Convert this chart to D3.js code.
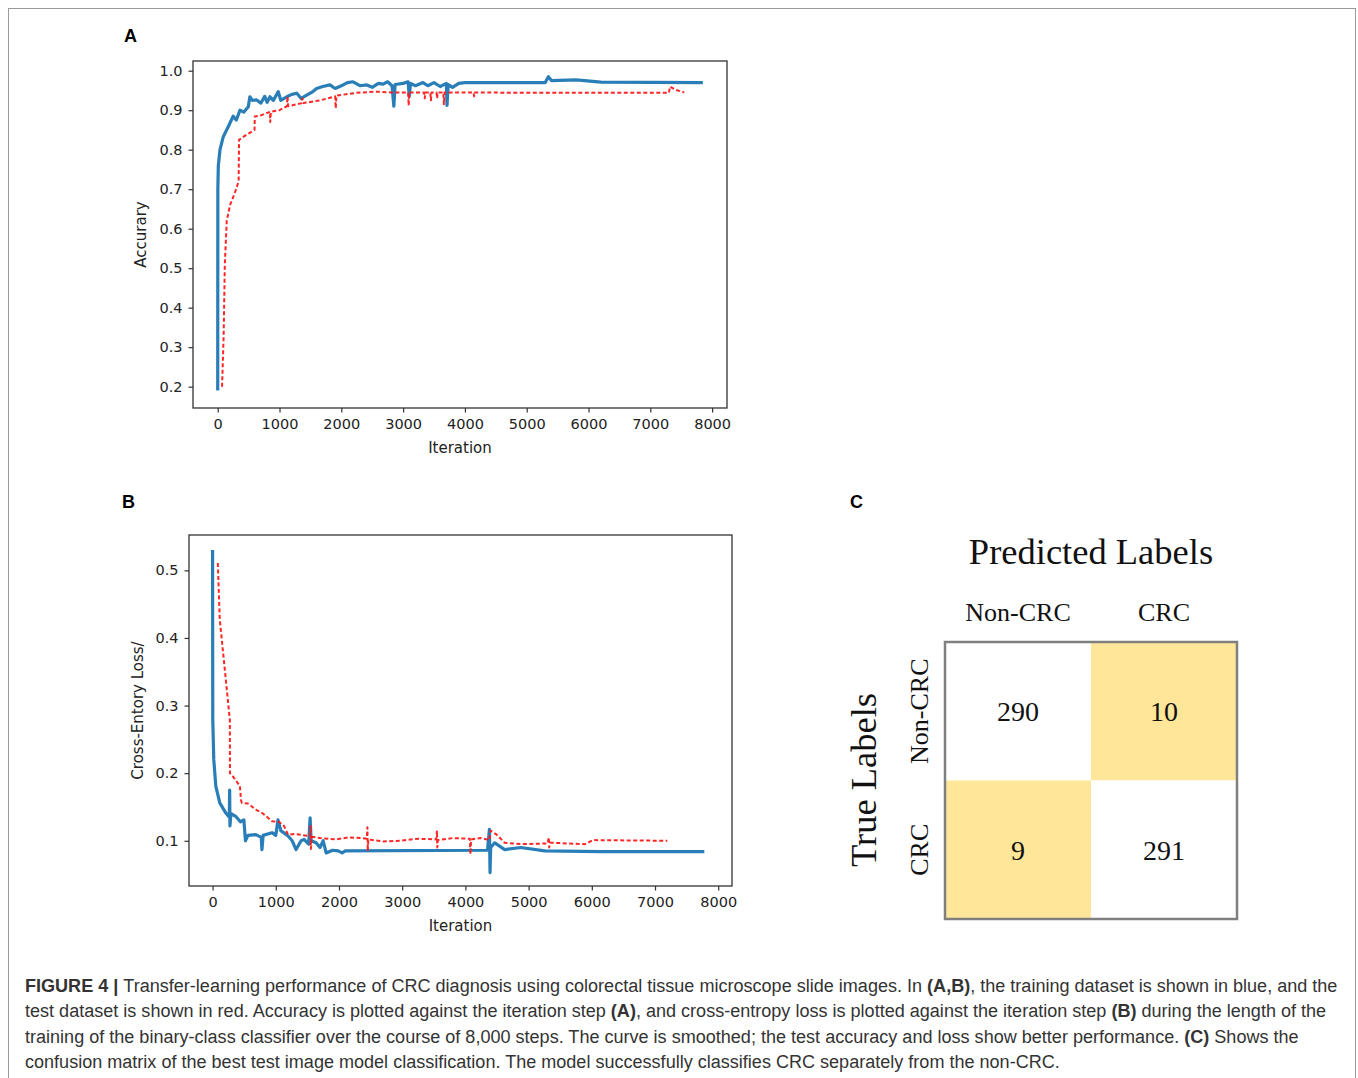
<!DOCTYPE html>
<html lang="en">
<head>
<meta charset="UTF-8">
<title>Figure 4</title>
<script src="https://d3js.org/d3.v7.min.js"></script>
<style>
    body { margin: 0; background: #fff; }
    .tick text { font-family: "DejaVu Sans", sans-serif; font-size: 14.5px; fill: #222; }
    .axis-label { font-family: "DejaVu Sans", sans-serif; font-size: 15px; fill: #222; }
    .panel-letter { font-family: "Liberation Sans", Arial, sans-serif; font-size: 18px; font-weight: bold; }
    .serif { font-family: "Liberation Serif", "DejaVu Serif", serif; fill: #111; }
    .caption { font-family: "Liberation Sans", Arial, sans-serif; fill: #333; }
</style>
</head>
<body>
<svg id="fig" width="1358" height="1078"></svg>
<script>
// ---- data ----
const xTicks = [0, 1000, 2000, 3000, 4000, 5000, 6000, 7000, 8000];
const accTicks = [0.2, 0.3, 0.4, 0.5, 0.6, 0.7, 0.8, 0.9, 1.0];
const lossTicks = [0.1, 0.2, 0.3, 0.4, 0.5];

// panel A, training accuracy (blue)
const trainAccIter = [0, 2, 10, 37, 90, 170, 250, 300, 360, 420, 495, 520, 560, 630, 700, 760, 800, 846, 900, 980,
    1020, 1117, 1200, 1278, 1350, 1440, 1520, 1600, 1700, 1817, 1900, 2028, 2100, 2190, 2300, 2411, 2500, 2600,
    2675, 2750, 2820, 2850, 2870, 3000, 3080, 3100, 3120, 3200, 3322, 3400, 3500, 3600, 3700, 3710, 3730, 3800,
    3900, 4000, 5300, 5350, 5400, 5800, 6200, 7850];
const trainAccVal = [0.19, 0.70, 0.76, 0.80, 0.833, 0.858, 0.885, 0.875, 0.90, 0.895, 0.909, 0.934, 0.925, 0.926,
    0.918, 0.935, 0.92, 0.934, 0.925, 0.947, 0.925, 0.934, 0.94, 0.943, 0.93, 0.938, 0.945, 0.955, 0.96, 0.964,
    0.955, 0.964, 0.97, 0.972, 0.962, 0.964, 0.958, 0.968, 0.966, 0.972, 0.962, 0.91, 0.965, 0.968, 0.972, 0.935,
    0.968, 0.962, 0.970, 0.962, 0.97, 0.96, 0.968, 0.912, 0.965, 0.958, 0.968, 0.97, 0.97, 0.985, 0.975, 0.977,
    0.971, 0.97];

// panel A, test accuracy (red)
const testAccIter = [70, 96, 115, 146, 200, 275, 339, 345, 467, 595, 600, 700, 846, 850, 860, 1000, 1117, 1130,
    1140, 1363, 1370, 1385, 1655, 1900, 1910, 1920, 2249, 2573, 2800, 3080, 3090, 3100, 3340, 3350, 3360, 3440,
    3450, 3460, 3540, 3550, 3560, 3650, 3660, 3670, 4140, 4150, 4160, 5000, 7300, 7320, 7400, 7550];
const testAccVal = [0.20, 0.33, 0.51, 0.62, 0.66, 0.69, 0.72, 0.825, 0.838, 0.85, 0.884, 0.887, 0.896, 0.87, 0.896,
    0.90, 0.91, 0.935, 0.91, 0.918, 0.93, 0.918, 0.925, 0.935, 0.905, 0.937, 0.944, 0.947, 0.945, 0.945, 0.912,
    0.945, 0.945, 0.93, 0.945, 0.945, 0.925, 0.945, 0.945, 0.93, 0.945, 0.945, 0.915, 0.945, 0.945, 0.935, 0.945,
    0.944, 0.944, 0.96, 0.952, 0.945];

// panel B, training loss (blue)
const trainLossIter = [0, 3, 19, 51, 114, 210, 265, 270, 275, 290, 368, 440, 495, 520, 560, 686, 770, 781, 800,
    940, 1000, 1035, 1080, 1194, 1260, 1321, 1400, 1448, 1520, 1543, 1560, 1638, 1700, 1750, 1797, 1900, 1987,
    2050, 2100, 4350, 4380, 4390, 4400, 4464, 4622, 4876, 5257, 6146, 7780];
const trainLossVal = [0.53, 0.28, 0.22, 0.181, 0.156, 0.141, 0.135, 0.175, 0.122, 0.14, 0.136, 0.128, 0.131, 0.10,
    0.108, 0.109, 0.105, 0.087, 0.108, 0.112, 0.108, 0.131, 0.115, 0.107, 0.10, 0.087, 0.10, 0.102, 0.095, 0.134,
    0.10, 0.097, 0.09, 0.10, 0.082, 0.086, 0.085, 0.082, 0.085, 0.086, 0.117, 0.053, 0.09, 0.097, 0.087, 0.09,
    0.085, 0.084, 0.084];

// panel B, test loss (red)
const testLossIter = [83, 114, 210, 273, 275, 300, 432, 450, 464, 560, 686, 800, 940, 1050, 1130, 1194, 1300,
    1540, 1550, 1555, 1565, 1700, 1956, 2150, 2337, 2440, 2450, 2455, 2465, 2700, 2971, 3250, 3540, 3550, 3555,
    3565, 3800, 4070, 4080, 4090, 4241, 4380, 4400, 4495, 4622, 4876, 5300, 5320, 5325, 5340, 5384, 5892, 6019, 7194];
const testLossVal = [0.511, 0.427, 0.338, 0.279, 0.20, 0.198, 0.181, 0.16, 0.156, 0.155, 0.146, 0.14, 0.129, 0.128,
    0.122, 0.109, 0.11, 0.107, 0.122, 0.088, 0.106, 0.104, 0.102, 0.105, 0.104, 0.103, 0.12, 0.085, 0.102, 0.099,
    0.10, 0.103, 0.102, 0.115, 0.09, 0.101, 0.104, 0.103, 0.08, 0.102, 0.104, 0.101, 0.115, 0.109, 0.097, 0.095,
    0.096, 0.105, 0.09, 0.097, 0.097, 0.095, 0.101, 0.10];

// panel C, confusion matrix
const cmCols = ["Non-CRC", "CRC"];
const cmRows = ["Non-CRC", "CRC"];
const cmValues = [[290, 10], [9, 291]];

const captionLines = [
    [["FIGURE 4 | ", true], ["Transfer-learning performance of CRC diagnosis using colorectal tissue microscope slide images. In ", false], ["(A,B)", true], [", the training dataset is shown in blue, and the", false]],
    [["test dataset is shown in red. Accuracy is plotted against the iteration step ", false], ["(A)", true], [", and cross-entropy loss is plotted against the iteration step ", false], ["(B)", true], [" during the length of the", false]],
    [["training of the binary-class classifier over the course of 8,000 steps. The curve is smoothed; the test accuracy and loss show better performance. ", false], ["(C)", true], [" Shows the", false]],
    [["confusion matrix of the best test image model classification. The model successfully classifies CRC separately from the non-CRC.", false]]
];

const svg = d3.select("#fig");

svg.append("rect")
    .attr("x", 8.5).attr("y", 8.5)
    .attr("width", 1347).attr("height", 1085)
    .attr("fill", "none").attr("stroke", "#9a9a9a").attr("stroke-width", 1);

function linePanel(box, xDom, yDom, yTicks, yFmt, yLabel, series) {
    const x = d3.scaleLinear().domain(xDom).range([box.left, box.right]);
    const y = d3.scaleLinear().domain(yDom).range([box.bottom, box.top]);
    const g = svg.append("g");

    series.forEach(s => {
        const pts = d3.zip(s.iter, s.val);
        g.append("path")
            .datum(pts)
            .attr("fill", "none")
            .attr("stroke", s.color)
            .attr("stroke-width", s.width)
            .attr("stroke-dasharray", s.dash)
            .attr("stroke-linejoin", "round")
            .attr("opacity", s.opacity)
            .attr("d", d3.line().x(d => x(d[0])).y(d => y(d[1])));
    });

    g.append("rect")
        .attr("x", box.left).attr("y", box.top)
        .attr("width", box.right - box.left).attr("height", box.bottom - box.top)
        .attr("fill", "none").attr("stroke", "#333").attr("stroke-width", 1.3);

    const xa = g.append("g")
        .attr("transform", `translate(0,${box.bottom})`)
        .call(d3.axisBottom(x).tickValues(xTicks).tickSize(4.5).tickPadding(6).tickFormat(d3.format("d")));
    const ya = g.append("g")
        .attr("transform", `translate(${box.left},0)`)
        .call(d3.axisLeft(y).tickValues(yTicks).tickSize(4.5).tickPadding(6).tickFormat(yFmt));
    [xa, ya].forEach(a => {
        a.select(".domain").remove();
        a.selectAll(".tick line").attr("stroke", "#333").attr("stroke-width", 1.2);
    });

    g.append("text").attr("class", "axis-label")
        .attr("x", (box.left + box.right) / 2).attr("y", box.bottom + 45)
        .attr("text-anchor", "middle").text("Iteration");
    g.append("text").attr("class", "axis-label")
        .attr("transform", `translate(${box.labelX},${(box.top + box.bottom) / 2}) rotate(-90)`)
        .attr("text-anchor", "middle").text(yLabel);
}

const blueStyle = { color: "#1f77b4", width: 3.2, dash: null, opacity: 0.95 };
const redStyle = { color: "#ff1a1a", width: 2, dash: "4,2.5", opacity: 0.95 };

// panel A
linePanel({ left: 193, right: 727, top: 61, bottom: 408, labelX: 146 },
    [-400, 8241], [0.146, 1.0246], accTicks, d3.format(".1f"), "Accurary",
    [Object.assign({ iter: trainAccIter, val: trainAccVal }, blueStyle),
     Object.assign({ iter: testAccIter, val: testAccVal }, redStyle)]);

// panel B
linePanel({ left: 189, right: 732, top: 535, bottom: 886, labelX: 143 },
    [-373, 8218], [0.0331, 0.5523], lossTicks, d3.format(".1f"), "Cross-Entory Loss/",
    [Object.assign({ iter: trainLossIter, val: trainLossVal }, blueStyle),
     Object.assign({ iter: testLossIter, val: testLossVal }, redStyle)]);

// panel letters
[["A", 124, 42], ["B", 122, 508], ["C", 850, 508]].forEach(([t, px, py]) => {
    svg.append("text").attr("class", "panel-letter").attr("x", px).attr("y", py).text(t);
});

// panel C, confusion matrix
const cx = d3.scaleBand().domain(cmCols).range([945, 1237]);
const cy = d3.scaleBand().domain(cmRows).range([642, 919]);
const cells = [];
cmRows.forEach((r, i) => cmCols.forEach((c, j) => cells.push({ r, c, v: cmValues[i][j], diag: i === j })));

const cm = svg.append("g");
cm.selectAll("rect.cell").data(cells).enter().append("rect")
    .attr("class", "cell")
    .attr("x", d => cx(d.c)).attr("y", d => cy(d.r))
    .attr("width", cx.bandwidth()).attr("height", cy.bandwidth())
    .attr("fill", d => d.diag ? "#ffffff" : "#ffe699");
cm.append("rect")
    .attr("x", 945).attr("y", 642).attr("width", 292).attr("height", 277)
    .attr("fill", "none").attr("stroke", "#7f7f7f").attr("stroke-width", 2.5);
cm.selectAll("text.val").data(cells).enter().append("text")
    .attr("class", "serif val")
    .attr("x", d => cx(d.c) + cx.bandwidth() / 2)
    .attr("y", d => cy(d.r) + cy.bandwidth() / 2 + 10)
    .attr("text-anchor", "middle").attr("font-size", 28)
    .text(d => d.v);
cm.selectAll("text.col").data(cmCols).enter().append("text")
    .attr("class", "serif col")
    .attr("x", d => cx(d) + cx.bandwidth() / 2).attr("y", 621)
    .attr("text-anchor", "middle").attr("font-size", 26)
    .text(d => d);
cm.selectAll("text.row").data(cmRows).enter().append("text")
    .attr("class", "serif row")
    .attr("transform", d => `translate(928,${cy(d) + cy.bandwidth() / 2}) rotate(-90)`)
    .attr("text-anchor", "middle").attr("font-size", 26)
    .text(d => d);
cm.append("text").attr("class", "serif")
    .attr("x", 1091).attr("y", 564).attr("text-anchor", "middle").attr("font-size", 36.5)
    .text("Predicted Labels");
cm.append("text").attr("class", "serif")
    .attr("transform", "translate(876,780) rotate(-90)")
    .attr("text-anchor", "middle").attr("font-size", 36.5)
    .text("True Labels");

// caption
const cap = svg.append("g");
const capTexts = captionLines.map((parts, i) => {
    const t = cap.append("text").attr("class", "caption")
        .attr("x", 25).attr("y", 992 + i * 25.3).attr("font-size", 17);
    parts.forEach(([s, b]) => {
        t.append("tspan").attr("font-weight", b ? "bold" : null).text(s);
    });
    return t;
});
const w0 = capTexts[0].node().getComputedTextLength();
const fs = 17 * 1313 / w0;
capTexts.forEach(t => t.attr("font-size", fs));
</script>
</body>
</html>
